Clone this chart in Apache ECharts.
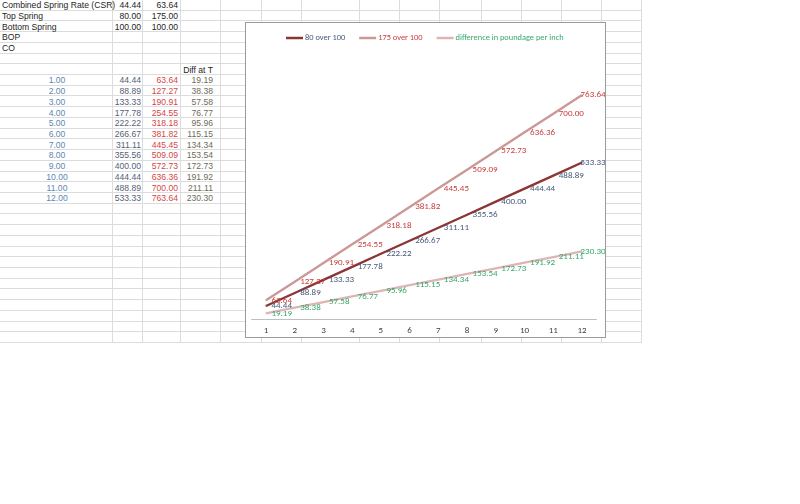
<!DOCTYPE html>
<html>
<head>
<meta charset="utf-8">
<script src="https://cdn.jsdelivr.net/npm/echarts@6/dist/echarts.min.js"></script>
<style>
  html, body { margin: 0; padding: 0; background: #fff; }
  #page { position: relative; width: 800px; height: 504px; overflow: hidden; background: #fff;
          font-family: "Liberation Sans", Arial, sans-serif; font-size: 8.6px; }
  .hl { position: absolute; height: 1px; background: #DCDCDC; }
  .vl { position: absolute; width: 1px; background: #DCDCDC; }
  .cell { position: absolute; white-space: nowrap; line-height: 11px; height: 11px; }
  #chartBox { position: absolute; left: 245px; top: 22px; width: 359px; height: 314px;
              border: 1px solid #9A9A9A; background: #fff; }
  #chart { width: 359px; height: 314px; }
</style>
</head>
<body>
<div id="page">
  <div id="chartBox"><div id="chart"></div></div>
</div>
<script>
// ---- data ----
const categories = [1, 2, 3, 4, 5, 6, 7, 8, 9, 10, 11, 12];
const tickLabels = ['1', '2', '3', '4', '5', '6', '7', '8', '9', '10', '11', '12'];
const seriesNames = ['80 over 100', '175 over 100', 'difference in poundage per inch'];
const s80over100 = [44.44, 88.89, 133.33, 177.78, 222.22, 266.67, 311.11, 355.56, 400.00, 444.44, 488.89, 533.33];
const s175over100 = [63.64, 127.27, 190.91, 254.55, 318.18, 381.82, 445.45, 509.09, 572.73, 636.36, 700.00, 763.64];
const diffPerInch = [19.19, 38.38, 57.58, 76.77, 95.96, 115.15, 134.34, 153.54, 172.73, 191.92, 211.11, 230.30];
const headerLabels = ['Combined Spring Rate (CSR)', 'Top Spring', 'Bottom Spring', 'BOP', 'CO'];
const headerColB = [44.44, 80.00, 100.00, null, null];
const headerColC = [63.64, 175.00, 100.00, null, null];
const diffHeader = 'Diff at T';

// ---- spreadsheet backdrop ----
const page = document.getElementById('page');
const chartBox = document.getElementById('chartBox');
const ROW_H = 10.72, N_ROWS = 32, SHEET_W = 642;
const colEdges = [113, 143, 181, 221, 262, 302, 360, 400, 440, 482, 522, 562, 602, 642];
function add(el) { page.insertBefore(el, chartBox); return el; }
for (let k = 1; k <= N_ROWS; k++) {
  const d = document.createElement('div'); d.className = 'hl';
  d.style.left = '0px'; d.style.width = SHEET_W + 'px'; d.style.top = Math.round(k * ROW_H - 1) + 'px';
  add(d);
}
colEdges.forEach(x => {
  const d = document.createElement('div'); d.className = 'vl';
  d.style.left = (x - 1) + 'px'; d.style.top = '0px'; d.style.height = Math.round(N_ROWS * ROW_H) + 'px';
  add(d);
});
function cell(text, row, opts) {
  const d = document.createElement('div'); d.className = 'cell'; d.textContent = text;
  d.style.top = (row * ROW_H + 0.3) + 'px';
  d.style.color = opts.color || '#1E1E1E';
  if (opts.left !== undefined) d.style.left = opts.left + 'px';
  if (opts.right !== undefined) d.style.right = (800 - opts.right) + 'px';
  if (opts.center !== undefined) { d.style.left = (opts.center - 30) + 'px'; d.style.width = '60px'; d.style.textAlign = 'center'; }
  add(d);
}
const fmt = v => v.toFixed(2);
headerLabels.forEach((t, i) => {
  cell(t, i, { left: 2 });
  if (headerColB[i] !== null) cell(fmt(headerColB[i]), i, { right: 141 });
  if (headerColC[i] !== null) cell(fmt(headerColC[i]), i, { right: 178 });
});
cell(diffHeader, 6, { right: 213 });
categories.forEach((c, i) => {
  const r = 7 + i;
  cell(fmt(c), r, { center: 57, color: '#5B87B5' });
  cell(fmt(s80over100[i]), r, { right: 141, color: '#56607A' });
  cell(fmt(s175over100[i]), r, { right: 178, color: '#D64545' });
  cell(fmt(diffPerInch[i]), r, { right: 213, color: '#6E6C58' });
});

// ---- chart ----
const lineColors = ['#8B3535', '#CB9797', '#DEB4B4'];
const labelColors = ['#46597A', '#C83C3C', '#35A86A'];
const chart = echarts.init(document.getElementById('chart'), null, { renderer: 'canvas' });
function mkSeries(idx, values) {
  const last = values.length - 1;
  return {
    name: seriesNames[idx], type: 'line',
    data: values.map((v, i) => i === last ? { value: v, label: { offset: [-7, 0] } } : v),
    symbol: 'circle', symbolSize: 1, showSymbol: true,
    lineStyle: { color: lineColors[idx], width: 2.3 },
    itemStyle: { color: lineColors[idx] },
    label: { show: true, position: 'right', distance: 5, color: labelColors[idx], fontSize: 9,
             formatter: p => p.value.toFixed(2) },
    emphasis: { disabled: true }, animation: false
  };
}
chart.setOption({
  animation: false,
  textStyle: { fontFamily: 'Carlito, Lato, "Open Sans", sans-serif' },
  legend: {
    left: 35, top: 6, itemWidth: 17, itemHeight: 2.5, itemGap: 14, icon: 'rect',
    textStyle: { fontSize: 8.4, padding: [0, 0, 0, -3] },
    data: seriesNames.map((n, i) => ({ name: n, textStyle: { color: labelColors[i], fontSize: 8.4, padding: [0, 0, 0, -3] } }))
  },
  grid: { left: 5.6, right: 8.6, top: 32, bottom: 18, containLabel: false },
  xAxis: {
    type: 'category', data: tickLabels, boundaryGap: true,
    axisLine: { lineStyle: { color: '#BFBFBF', width: 1 } },
    axisTick: { show: false },
    axisLabel: { color: '#404040', fontSize: 9, margin: 7 }
  },
  yAxis: { type: 'value', min: 0, max: 900, show: false, splitLine: { show: false } },
  series: [mkSeries(0, s80over100), mkSeries(1, s175over100), mkSeries(2, diffPerInch)]
});
</script>
</body>
</html>
